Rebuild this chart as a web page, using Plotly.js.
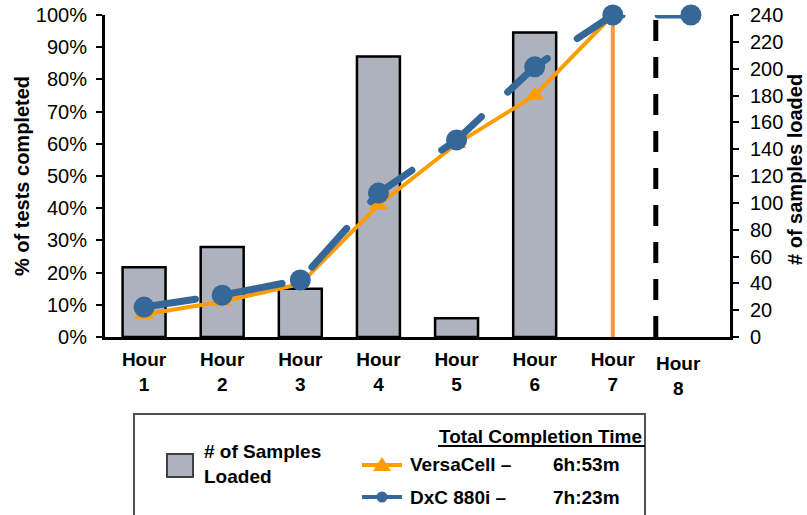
<!DOCTYPE html>
<html>
<head>
<meta charset="utf-8">
<script src="https://cdn.plot.ly/plotly-3.0.1.min.js"></script>
<style>
html,body{margin:0;padding:0;background:#fff;}
#chart{width:807px;height:515px;}
</style>
</head>
<body>
<div id="chart"></div>
<script>
// ---- data ----
const hours = [1, 2, 3, 4, 5, 6, 7, 8];
const hourLabels = ['Hour<br>1', 'Hour<br>2', 'Hour<br>3', 'Hour<br>4', 'Hour<br>5', 'Hour<br>6', 'Hour<br>7', ''];
const hour8Label = 'Hour<br>8';
const samplesLoaded = [52, 67, 36, 209, 14, 227, null, null];
const versaHours = [1, 2, 3, 4, 5, 6, 7];
const versaPct = [7, 11, 16.5, 41, 60, 75, 100];
const dxcHours = [1, 2, 3, 4, 5, 6, 7, 8];
const dxcPct = [9.3, 13, 17.7, 44.7, 61.2, 83.9, 100, 100];
const versaDoneHour = 7;      // VersaCell completion marker
const dxcDoneHour = 7.55;     // DxC completion marker
const versaDoneRange = [0, 100];
const dxcDoneRange = [0, 100];
const leftTitle = '% of tests completed';
const rightTitle = '# of samples loaded';
const legendSeries = ['VersaCell \u2013', 'DxC 880i \u2013'];
const legendTimes = ['6h:53m', '7h:23m'];

// ---- styling ----
const FONT = 'Liberation Sans, Arial, sans-serif';
const BLUE = '#356799';
const ORANGE = '#ff9c00';
const ORANGE2 = '#f79646';
const GRAY = '#adb2bd';

const M = {l: 105, r: 77, t: 15, b: 178};
const W = 807, H = 515;
const PW = W - M.l - M.r, PH = H - M.t - M.b;
const px = x => (x - M.l) / PW;
const py = y => (H - M.b - y) / PH;

const traces = [
  {
    type: 'bar', x: hours, y: samplesLoaded, yaxis: 'y', width: 0.55,
    marker: {color: GRAY, line: {color: '#000', width: 2.5}},
    hoverinfo: 'skip', showlegend: false
  },
  {
    type: 'scatter', mode: 'lines', x: [versaDoneHour, versaDoneHour], y: versaDoneRange, yaxis: 'y2',
    line: {color: ORANGE2, width: 4}, showlegend: false, hoverinfo: 'skip'
  },
  {
    type: 'scatter', mode: 'lines', x: [dxcDoneHour, dxcDoneHour], y: dxcDoneRange, yaxis: 'y2',
    line: {color: '#000', width: 5, dash: '21px,16px'}, showlegend: false, hoverinfo: 'skip'
  },
  {
    type: 'scatter', mode: 'lines+markers', x: versaHours, y: versaPct, yaxis: 'y2', name: 'VersaCell',
    line: {color: ORANGE, width: 4},
    marker: {symbol: 'triangle-up', size: 17, color: ORANGE},
    cliponaxis: false, showlegend: false
  },
  {
    type: 'scatter', mode: 'lines+markers', x: dxcHours, y: dxcPct, yaxis: 'y2', name: 'DxC 880i',
    line: {color: BLUE, width: 7, dash: '52px,36px'},
    marker: {symbol: 'circle', size: 21, color: BLUE},
    cliponaxis: false, showlegend: false
  }
];

const shapes = [
  // legend box
  {type: 'rect', xref: 'paper', yref: 'paper', x0: px(134), x1: px(645), y0: py(414), y1: py(540),
   line: {color: '#505050', width: 2}, fillcolor: 'rgba(0,0,0,0)'},
  // gray swatch
  {type: 'rect', xref: 'paper', yref: 'paper', x0: px(167), x1: px(193), y0: py(454), y1: py(477),
   line: {color: '#404040', width: 2}, fillcolor: GRAY},
  // underline
  {type: 'line', xref: 'paper', yref: 'paper', x0: px(438), x1: px(645), y0: py(446), y1: py(446),
   line: {color: '#000', width: 2}},
  // orange legend line
  {type: 'line', xref: 'paper', yref: 'paper', x0: px(362), x1: px(402), y0: py(465), y1: py(465),
   line: {color: ORANGE, width: 4}},
  {type: 'path', xref: 'paper', yref: 'paper',
   path: `M ${px(382)} ${py(457)} L ${px(373)} ${py(471)} L ${px(391)} ${py(471)} Z`,
   fillcolor: ORANGE, line: {width: 0}},
  // blue legend line
  {type: 'line', xref: 'paper', yref: 'paper', x0: px(362), x1: px(402), y0: py(497), y1: py(497),
   line: {color: BLUE, width: 4}},
  {type: 'circle', xref: 'paper', yref: 'paper', x0: px(376.5), x1: px(387.5), y0: py(491.5), y1: py(502.5),
   fillcolor: BLUE, line: {width: 0}}
];

const txt = (x, y, text, extra) => Object.assign({
  xref: 'paper', yref: 'paper', x: px(x), y: py(y), text: text, showarrow: false,
  xanchor: 'left', yanchor: 'middle', align: 'left',
  font: {family: FONT, size: 19, color: '#000'}
}, extra || {});

const titleFont = {family: FONT, size: 20, color: '#000'};

const annotations = [
  txt(202, 464, '<b># of Samples<br>Loaded</b>'),
  txt(437, 436, '<b>Total Completion Time</b>'),
  txt(408, 465, '<b>' + legendSeries[0] + '</b>'),
  txt(551, 465, '<b>' + legendTimes[0] + '</b>'),
  txt(408, 497, '<b>' + legendSeries[1] + '</b>'),
  txt(551, 497, '<b>' + legendTimes[1] + '</b>'),
  {xref: 'x', yref: 'paper', x: hours[7], y: py(351), xshift: -12, yanchor: 'top', xanchor: 'center',
   text: '<b>' + hour8Label + '</b>', showarrow: false, font: {family: FONT, size: 19, color: '#000'}},
  // axis titles
  txt(22, 176, '<b>' + leftTitle + '</b>', {xanchor: 'center', textangle: -90, font: titleFont}),
  txt(795, 170, '<b>' + rightTitle + '</b>', {xanchor: 'center', textangle: -90, font: titleFont})
];

const layout = {
  width: W, height: H,
  margin: M,
  paper_bgcolor: '#fff', plot_bgcolor: '#fff',
  showlegend: false,
  font: {family: FONT, color: '#000'},
  xaxis: {
    range: [0.5, 8.5], tickmode: 'array', tickvals: hours, ticktext: hourLabels.map(s => s ? '<b>' + s + '</b>' : ''),
    showline: true, linecolor: '#000', linewidth: 3, ticks: '', showgrid: false, zeroline: false,
    tickfont: {family: FONT, size: 19, color: '#000'}, ticklabelstandoff: 3, fixedrange: true
  },
  yaxis: {
    side: 'right', range: [0, 240], dtick: 20, tick0: 0,
    showline: true, linecolor: '#000', linewidth: 3, ticks: 'outside', ticklen: 6, tickwidth: 2, tickcolor: '#000',
    showgrid: false, zeroline: false, ticklabelstandoff: 7,
    tickfont: {family: FONT, size: 20, color: '#000'}
  },
  yaxis2: {
    overlaying: 'y', side: 'left', range: [0, 100], dtick: 10, tick0: 0, ticksuffix: '%',
    showline: true, linecolor: '#000', linewidth: 3, ticks: 'outside', ticklen: 6, tickwidth: 2, tickcolor: '#000',
    showgrid: false, zeroline: false, ticklabelstandoff: 5,
    tickfont: {family: FONT, size: 20, color: '#000'}
  },
  shapes: shapes,
  annotations: annotations
};

Plotly.newPlot('chart', traces, layout, {displayModeBar: false, staticPlot: true}).then(gd => {
  // rounded dash ends like the reference line
  const lines = gd.querySelectorAll('.scatterlayer .trace path.js-line');
  if (lines.length) lines[lines.length - 1].style.strokeLinecap = 'round';
});
</script>
</body>
</html>
